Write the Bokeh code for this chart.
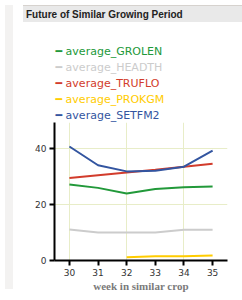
from bokeh.plotting import figure
from bokeh.models import (Range1d, FixedTicker, Title, Div)
from bokeh.layouts import row, column
from bokeh.embed import file_html
from bokeh.resources import INLINE

# ---- data ----
weeks = [30, 31, 32, 33, 34, 35]
grolen = [27.2, 26.0, 24.0, 25.6, 26.2, 26.5]
headth = [11.1, 10.0, 10.0, 10.0, 11.0, 11.0]
truflo = [29.5, 30.5, 31.5, 32.5, 33.6, 34.6]
prokgm_weeks = [32, 33, 34, 35]
prokgm = [1.2, 1.5, 1.5, 1.8]
setfm2 = [40.8, 34.1, 31.9, 32.1, 33.6, 39.3]

series_names = ["average_GROLEN", "average_HEADTH", "average_TRUFLO",
                "average_PROKGM", "average_SETFM2"]
series_colors = ["#22993a", "#cccccc", "#d23c2c", "#ffcc00", "#3355a0"]
x_ticks = [30, 31, 32, 33, 34, 35]
x_grid = [30, 32, 34]
y_ticks = [0, 20, 40]
y_grid = [20, 40]
title_text = "Future of Similar Growing Period"
x_label = "week in similar crop"

p = figure(width=226, height=267, output_backend="svg", toolbar_location=None,
           title=None,
           x_range=Range1d(29.48, 35.52), y_range=Range1d(0, 49.4),
           min_border_left=36, min_border_right=17, min_border_top=95,
           min_border_bottom=30)
p.outline_line_color = None
p.background_fill_color = "white"
p.border_fill_color = "white"

xs_list = [weeks, weeks, weeks, prokgm_weeks, weeks]
ys_list = [grolen, headth, truflo, prokgm, setfm2]
for xs, ys, c in zip(xs_list, ys_list, series_colors):
    p.line(xs, ys, line_color=c, line_width=2)

# axes
for ax in (p.xaxis[0], p.yaxis[0]):
    ax.axis_line_color = "black"
    ax.axis_line_width = 2
    ax.major_tick_line_color = "black"
    ax.major_tick_line_width = 2
    ax.major_tick_out = 5
    ax.major_tick_in = 0
    ax.minor_tick_line_color = None
    ax.major_label_text_font = "DejaVu Sans"
    ax.major_label_text_font_size = "9px"
    ax.major_label_text_color = "#333333"
    ax.major_label_standoff = 3
p.xaxis.ticker = FixedTicker(ticks=x_ticks)
p.yaxis.ticker = FixedTicker(ticks=y_ticks)
p.xaxis.axis_label = x_label
p.xaxis.axis_label_text_font = "Liberation Serif"
p.xaxis.axis_label_text_font_style = "bold"
p.xaxis.axis_label_text_font_size = "11px"
p.xaxis.axis_label_text_color = "#7a7a7a"
p.xaxis.axis_label_standoff = 1

p.xgrid.ticker = FixedTicker(ticks=x_grid)
p.ygrid.ticker = FixedTicker(ticks=y_grid)
p.xgrid.grid_line_color = "#e8edc8"
p.ygrid.grid_line_color = "#e8edc8"

# legend rows as coloured titles stacked above the frame (first added = nearest)
for name, c in reversed(list(zip(series_names, series_colors))):
    t = Title(text="\u2501 " + name, text_color=c, text_font="DejaVu Sans",
              text_font_size="11px", text_font_style="normal",
              align="left", offset=1, standoff=1)
    p.add_layout(t, "above")

title_div = Div(text=title_text, width=226, height=17,
                styles={"background-color": "#e9e9e9",
                        "border-top": "1px solid #d6d2ce",
                        "font-family": "'Liberation Sans'",
                        "font-weight": "bold", "font-size": "10px",
                        "color": "#222222", "line-height": "17px",
                        "padding-left": "3px", "box-sizing": "border-box"})
strip = Div(text="", width=8, height=284,
            styles={"background-color": "#f3f2f1"})

layout = row(strip, column(title_div, p))

open("out.html", "w").write(file_html(layout, INLINE))
